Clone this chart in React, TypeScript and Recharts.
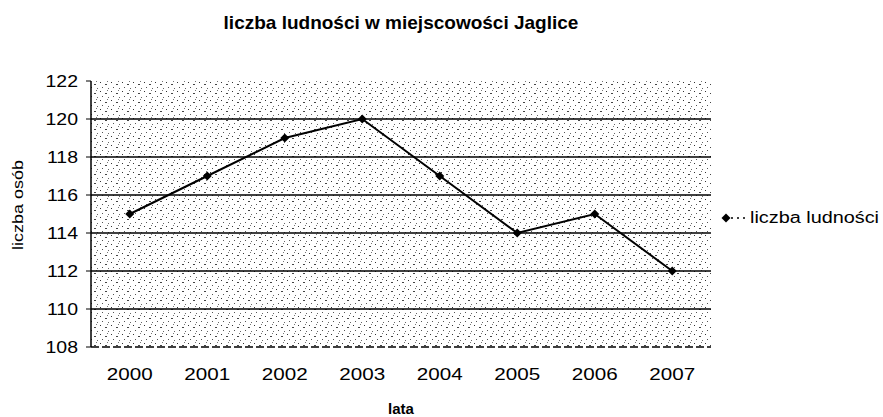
import { CartesianGrid, Line, LineChart, XAxis, YAxis } from "recharts";

const years = ["2000", "2001", "2002", "2003", "2004", "2005", "2006", "2007"];
const population = [115, 117, 119, 120, 117, 114, 115, 112];
const yTicks = [108, 110, 112, 114, 116, 118, 120, 122];
const gridValues = [110, 112, 114, 116, 118, 120];

const data = years.map((year, i) => ({ year, ludnosc: population[i] }));

const FONT = "'Liberation Sans', Arial, sans-serif";

function Diamond(props: any) {
  const { cx, cy } = props;
  if (cx == null || cy == null) return null;
  const r = 4.5;
  return (
    <polygon
      points={`${cx},${cy - r} ${cx + r},${cy} ${cx},${cy + r} ${cx - r},${cy}`}
      fill="#000"
    />
  );
}

// the scan is stretched sideways, so the labels are widened a bit
function XTick({ x, y, payload }: any) {
  return (
    <text
      transform={`translate(${x},${y}) scale(1.25,1)`}
      textAnchor="middle"
      dy="0.71em"
      fill="#000"
      fontSize={16.5}
      fontFamily={FONT}
    >
      {payload.value}
    </text>
  );
}

function YTick({ x, y, payload }: any) {
  return (
    <text
      transform={`translate(${x},${y}) scale(1.18,1)`}
      textAnchor="end"
      dy="0.355em"
      fill="#000"
      fontSize={16.5}
      fontFamily={FONT}
    >
      {payload.value}
    </text>
  );
}

function LegendBox() {
  return (
    <div
      style={{
        position: "absolute",
        left: 719,
        top: 209,
        display: "flex",
        alignItems: "center",
        fontFamily: FONT,
        fontSize: 16,
        color: "#000",
        whiteSpace: "nowrap",
      }}
    >
      <svg width={30} height={12}>
        <line x1={12} y1={6} x2={30} y2={6} stroke="#000" strokeWidth={1.5} strokeDasharray="2 4" />
        <polygon points="7,1.5 11.5,6 7,10.5 2.5,6" fill="#000" />
      </svg>
      <span style={{ display: "inline-block", transform: "scaleX(1.24)", transformOrigin: "left center", marginLeft: 1 }}>
        liczba ludności
      </span>
    </div>
  );
}

export default function App() {
  return (
    <div style={{ position: "absolute", left: 0, top: 0, width: 883, height: 417, background: "#fff", overflow: "hidden" }}>
      <div
        style={{
          position: "absolute",
          left: 91,
          width: 620,
          top: 13,
          lineHeight: 1,
          textAlign: "center",
          fontFamily: FONT,
          fontWeight: "bold",
          fontSize: 19,
        }}
      >
        liczba ludności w miejscowości Jaglice
      </div>
      <LineChart width={883} height={417} data={data} margin={{ top: 81, right: 172, bottom: 0, left: 0 }}>
        <defs>
          <pattern id="stipple" width="11" height="9" patternUnits="userSpaceOnUse">
            <rect width="11" height="9" fill="#fff" />
            <rect x="1" y="1" width="1" height="1" fill="#333" />
            <rect x="6" y="3" width="2" height="1" fill="#444" />
            <rect x="3" y="6" width="1" height="1" fill="#555" />
            <rect x="9" y="7" width="1" height="1" fill="#666" />
            <rect x="8" y="0" width="1" height="1" fill="#777" />
          </pattern>
        </defs>
        <CartesianGrid
          vertical={false}
          horizontalValues={gridValues}
          stroke="#000"
          strokeWidth={1.5}
          fill="url(#stipple)"
        />
        <XAxis
          dataKey="year"
          height={70}
          padding={{ left: 38.75, right: 38.75 }}
          axisLine={{ stroke: "#000", strokeWidth: 1.5, strokeDasharray: "8 3" }}
          tickLine={false}
          tick={<XTick />}
          tickMargin={15}
          label={{ value: "lata", position: "insideBottom", offset: 3, fill: "#000", fontSize: 15, fontWeight: "bold", fontFamily: FONT }}
        />
        <YAxis
          width={91}
          domain={[108, 122]}
          ticks={yTicks}
          interval={0}
          axisLine={{ stroke: "#000", strokeWidth: 1.5 }}
          tickLine={{ stroke: "#000" }}
          tickSize={5}
          tick={<YTick />}
          tickMargin={8}
          label={{
            content: () => (
              <text
                transform="translate(23,205) rotate(-90) scale(1.2,1)"
                textAnchor="middle"
                fill="#000"
                fontSize={15}
                fontFamily={FONT}
              >
                liczba osób
              </text>
            ),
          }}
        />
        <Line
          type="linear"
          dataKey="ludnosc"
          name="liczba ludności"
          stroke="#000"
          strokeWidth={2}
          dot={<Diamond />}
          activeDot={false}
          isAnimationActive={false}
        />
      </LineChart>
      <LegendBox />
    </div>
  );
}
